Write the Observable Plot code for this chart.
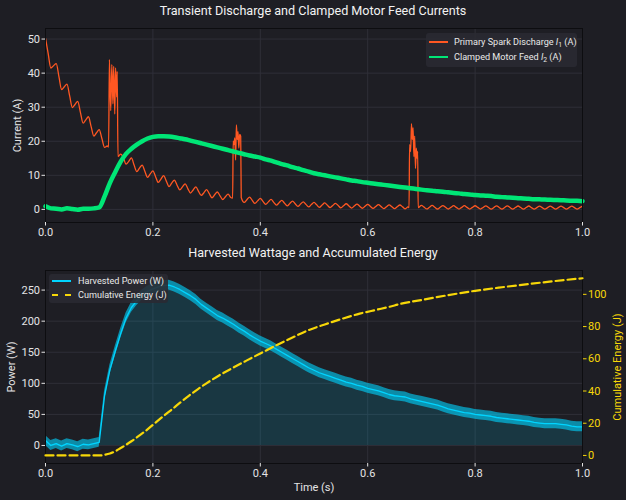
<!DOCTYPE html>
<html><head><meta charset="utf-8">
<script src="https://cdn.jsdelivr.net/npm/d3@7"></script>
<script src="https://cdn.jsdelivr.net/npm/@observablehq/plot@0.6"></script>
<style>
body{margin:0;background:#1e1e24;}
#root{position:relative;width:626px;height:500px;background:#1e1e24;font-family:Roboto,"Open Sans",sans-serif;color:#e6e6e6;overflow:hidden}
.abs{position:absolute}
.title{left:0;width:626px;text-align:center;font-size:12.6px;line-height:16px;color:#f2f2f2}
.legend{position:absolute;background:rgba(42,42,50,0.88);border-radius:3px;font-size:9.1px;color:#e8e8e8}
.row{position:absolute;left:0;height:12px;white-space:nowrap}
.row .sw{position:absolute;top:5px;width:19px;height:0}
.row .lb{position:absolute;top:-1px;line-height:14px}
sub{font-size:6.8px;vertical-align:-2px}
</style></head>
<body><div id="root"></div>
<script>
// ---------------- data ----------------
const xTicks = [0, 0.2, 0.4, 0.6, 0.8, 1.0];
const currentTicks = [0, 10, 20, 30, 40, 50];
const powerTicks = [0, 50, 100, 150, 200, 250];
const energyTicks = [0, 20, 40, 60, 80, 100];

// Primary spark discharge I1 (A), sampled every 0.005 s (null = inside a spark burst)
const i1Step = 0.005;
const i1Base = [
 50.3,45.7,41.5,42.2,42.8,39.0,35.2,36.0,36.8,33.3,29.9,30.8,31.7,28.5,25.3,26.3,27.2,24.3,21.5,22.5,23.4,20.8,18.2,18.6,
 null,null,null,null,
 16.2,15.2,13.3,14.1,15.1,13.0,11.1,12.1,13.0,11.2,9.4,10.4,11.3,9.6,7.9,8.9,9.9,8.3,6.7,7.7,8.6,7.1,5.7,6.6,7.5,6.1,4.8,5.7,6.6,5.3,4.1,4.9,5.8,4.6,3.4,4.3,5.1,4.0,2.9,3.7,4.5,3.5,
 null,null,null,null,
 2.05,2.84,3.61,2.66,1.74,2.49,3.24,2.34,1.47,2.2,2.92,2.07,1.23,1.95,2.65,1.84,1.03,1.73,2.42,1.64,0.86,1.55,2.22,1.47,0.73,1.40,2.05,1.33,0.61,1.26,1.89,1.21,0.53,1.16,1.77,1.11,0.45,1.06,1.65,1.01,0.38,0.97,1.56,0.94,0.33,0.91,1.48,0.87,0.27,0.84,1.40,0.81,0.24,0.80,1.34,0.77,0.21,0.75,1.29,0.73,0.18,0.71,
 null,null,null,null,
 1.2,0.66,0.13,0.65,1.16,0.63,0.11,0.62,1.13,0.61,0.12,0.61,1.1,0.6,0.1,0.59,1.09,0.59,0.09,0.58,1.07,0.58,0.09,0.57,1.05,0.56,0.08,0.56,1.03,0.55,0.08,0.55,1.02,0.55,0.08,0.54,1.0,0.54,0.08,0.54,1.0,0.53,0.08,0.53,0.98,0.53,0.08,0.53,0.97,0.52,0.07,0.52,0.96,0.52,0.08,0.52,0.96,0.52,0.08,0.52,0.96
];
const spike1T = [0.1175,0.119,0.1215,0.1235,0.1255,0.127,0.129,0.1305,0.1325,0.1335,0.135];
const spike1V = [18.3,44.0,29.0,42.5,31.0,42.0,28.0,41.5,33.0,40.5,15.5];
const spike2T = [0.3485,0.3495,0.351,0.3525,0.354,0.3555,0.357,0.3585,0.360,0.3615,0.3635,0.3645];
const spike2V = [3.3,20.0,19.0,21.0,14.5,24.8,20.5,22.8,18.0,22.0,21.5,3.5];
const spike3T = [0.677,0.678,0.680,0.6815,0.683,0.6845,0.686,0.6875,0.689,0.6905,0.692,0.693,0.694];
const spike3V = [0.5,19.0,17.0,25.2,20.5,24.0,15.5,21.5,12.0,18.0,15.0,17.0,0.5];

// Clamped motor feed I2 (A), every 0.01 s
const i2Step = 0.01;
const i2Values = [
 0.9,0.3,0.2,0.0,0.3,0.1,-0.1,0.2,0.2,0.3,
 0.6,3.8,7.8,11.0,14.0,16.3,17.8,19.0,20.0,20.8,
 21.3,21.5,21.5,21.4,21.2,20.9,20.6,20.2,19.8,19.4,
 19.0,18.6,18.2,17.8,17.4,17.0,16.6,16.2,15.8,15.5,
 15.2,14.7,14.3,13.8,13.3,12.9,12.4,12.0,11.5,11.1,
 10.6,10.3,10.0,9.7,9.4,9.1,8.8,8.5,8.3,8.0,
 7.8,7.6,7.4,7.2,7.0,6.8,6.6,6.4,6.2,6.0,
 5.8,5.6,5.5,5.3,5.2,5.0,4.8,4.7,4.5,4.4,
 4.2,4.1,4.0,3.9,3.7,3.6,3.5,3.4,3.3,3.2,
 3.1,3.0,2.95,2.9,2.8,2.75,2.7,2.6,2.55,2.5,2.4
];

// Harvested power (W), every 0.01 s
const powerStep = 0.01;
const powerValues = [
 8,0,3,-1,3,1,-2,2,1,3,
 5,80,122,152,180,205,222,233,242,248,
 252,255,257,258,255,251,246,241,235,227,
 221,215,209,205,200,195,189,184,178,173,
 168,164,160,155,150,145,140,135,130,125,
 121,117,114,111,108,105,102,100,97,95,
 92,90,88,85,82,80,79,78,75,73,
 71,69,67,65,62,59,57,55,53,52,
 50,49,48,47,45,44,43,42,41,40,
 39,37,36,35,35,35,34,33,31,30,30
];

// Cumulative energy (J)
const energyT = [0,0.1,0.11,0.12,0.13,0.14,0.15,0.16,0.175,0.19,0.206,0.22,0.237,0.25,0.268,0.284,0.299,0.324,0.35,0.375,0.4,0.43,0.46,0.49,0.52,0.554,0.585,0.616,0.641,0.66,0.7,0.75,0.8,0.85,0.9,0.95,1.0];
const energyV = [0,0,0.4,1.2,2.6,4.6,6.6,8.8,12.4,16.2,20.7,24.5,29.0,32.6,37.3,41.2,44.6,49.8,54.6,59.0,63.3,68.4,73.2,77.8,81.3,85.0,88.0,90.4,92.3,94.0,96.5,99.5,102.2,104.4,106.4,108.3,110.0];

// ---------------- tables ----------------
const i1Data = i1Base.map((v, k) => ({t: k * i1Step, v}))
  .filter(d => d.v !== null)
  .concat(spike1T.map((t, i) => ({t, v: spike1V[i]})))
  .concat(spike2T.map((t, i) => ({t, v: spike2V[i]})))
  .concat(spike3T.map((t, i) => ({t, v: spike3V[i]})))
  .sort((a, b) => a.t - b.t);
const i2Data = i2Values.map((v, k) => ({t: k * i2Step, v}));
const pData = powerValues.map((p, k) => ({t: k * powerStep, p}));
const eData = energyT.map((t, i) => ({t, e: energyV[i]}));

// ---------------- styles ----------------
const FONT = "Roboto, 'Open Sans', sans-serif";
const GRID = "#2f2f38", FRAME = "#0d0d10", TXT = "#e4e4e4";
const ORANGE = "#ff5722", GREEN = "#00e676", CYAN = "#00d4ff", YELLOW = "#f7d708";
const NOISE = 8;
const W = 626;
const root = document.getElementById("root");
const fmt1 = d3.format(".1f");

function place(node, top) {
  node.style.position = "absolute";
  node.style.left = "0px";
  node.style.top = top + "px";
  root.appendChild(node);
}
function addTitle(text, top) {
  const d = document.createElement("div");
  d.className = "abs title";
  d.style.top = top + "px";
  d.textContent = text;
  root.appendChild(d);
}

// ---------------- top panel ----------------
const topPlot = Plot.plot({
  width: W, height: 245,
  marginTop: 28, marginRight: 44, marginBottom: 23, marginLeft: 45,
  style: {background: "transparent", color: TXT, fontFamily: FONT, fontSize: "11px", overflow: "visible"},
  x: {domain: [0, 1]},
  y: {domain: [-3.85, 53.1]},
  marks: [
    Plot.gridX(xTicks, {stroke: GRID, strokeOpacity: 1}),
    Plot.gridY(currentTicks, {stroke: GRID, strokeOpacity: 1}),
    Plot.line(i1Data, {x: "t", y: "v", stroke: ORANGE, strokeWidth: 1.3, curve: "monotone-x"}),
    Plot.line(i2Data, {x: "t", y: "v", stroke: GREEN, strokeWidth: 4.5, curve: "monotone-x"}),
    Plot.frame({stroke: FRAME}),
    Plot.axisX(xTicks, {tickFormat: fmt1, tickSize: 3.5, tickPadding: 2, label: null}),
    Plot.axisY(currentTicks, {tickSize: 3.5, tickPadding: 2, label: "Current (A)", labelAnchor: "center", labelArrow: "none", labelOffset: 32})
  ]
});
place(topPlot, 0);

// ---------------- bottom panel ----------------
const botPlot = Plot.plot({
  width: W, height: 255,
  marginTop: 25, marginRight: 44, marginBottom: 37, marginLeft: 45,
  style: {background: "transparent", color: TXT, fontFamily: FONT, fontSize: "11px", overflow: "visible"},
  x: {domain: [0, 1]},
  y: {domain: [-29, 281.5]},
  marks: [
    Plot.gridX(xTicks, {stroke: GRID, strokeOpacity: 1}),
    Plot.gridY(powerTicks, {stroke: GRID, strokeOpacity: 1}),
    Plot.areaY(pData, {x: "t", y1: 0, y2: "p", fill: CYAN, fillOpacity: 0.14}),
    Plot.areaY(pData, {x: "t", y1: d => d.p - NOISE, y2: d => d.p + NOISE, fill: CYAN, fillOpacity: 0.6}),
    Plot.line(pData, {x: "t", y: "p", stroke: CYAN, strokeWidth: 1.3}),
    Plot.frame({stroke: FRAME}),
    Plot.axisX(xTicks, {tickFormat: fmt1, tickSize: 3.5, tickPadding: 2, label: "Time (s)", labelAnchor: "center", labelArrow: "none", labelOffset: 27}),
    Plot.axisY(powerTicks, {tickSize: 3.5, tickPadding: 2, label: "Power (W)", labelAnchor: "center", labelArrow: "none", labelOffset: 38})
  ]
});
place(botPlot, 245);

const energyPlot = Plot.plot({
  width: W, height: 255,
  marginTop: 25, marginRight: 44, marginBottom: 37, marginLeft: 45,
  style: {background: "transparent", color: YELLOW, fontFamily: FONT, fontSize: "11px", overflow: "visible"},
  x: {domain: [0, 1], axis: null},
  y: {domain: [-5, 114.8]},
  marks: [
    Plot.line(eData, {x: "t", y: "e", stroke: YELLOW, strokeWidth: 2.2, strokeDasharray: "8,4", curve: "monotone-x"}),
    Plot.axisY(energyTicks, {anchor: "right", color: YELLOW, tickSize: 3.5, tickPadding: 2, label: "Cumulative Energy (J)", labelAnchor: "center", labelArrow: "none", labelOffset: 38})
  ]
});
place(energyPlot, 245);

addTitle("Transient Discharge and Clamped Motor Feed Currents", 3);
addTitle("Harvested Wattage and Accumulated Energy", 245);

// ---------------- legends ----------------
function legend(left, top, w, h, rows) {
  const box = document.createElement("div");
  box.className = "legend";
  Object.assign(box.style, {left: left + "px", top: top + "px", width: w + "px", height: h + "px"});
  rows.forEach(r => {
    const row = document.createElement("div");
    row.className = "row";
    row.style.top = r.y + "px";
    const sw = document.createElement("div");
    sw.className = "sw";
    sw.style.left = r.sx + "px";
    sw.style.borderTop = r.dash ? `2.2px dashed ${r.color}` : `2px solid ${r.color}`;
    const lb = document.createElement("div");
    lb.className = "lb";
    lb.style.left = r.tx + "px";
    lb.innerHTML = r.html;
    row.appendChild(sw); row.appendChild(lb);
    box.appendChild(row);
  });
  root.appendChild(box);
}
legend(426, 33, 151, 34, [
  {y: 3, sx: 3, tx: 28, color: ORANGE, html: "Primary Spark Discharge <i>I</i><sub>1</sub> (A)"},
  {y: 18, sx: 3, tx: 28, color: GREEN, html: "Clamped Motor Feed <i>I</i><sub>2</sub> (A)"}
]);
legend(49, 274, 119, 29, [
  {y: 1, sx: 3, tx: 29, color: CYAN, html: "Harvested Power (W)"},
  {y: 15, sx: 3, tx: 29, color: YELLOW, dash: true, html: "Cumulative Energy (J)"}
]);
</script>
</body></html>
